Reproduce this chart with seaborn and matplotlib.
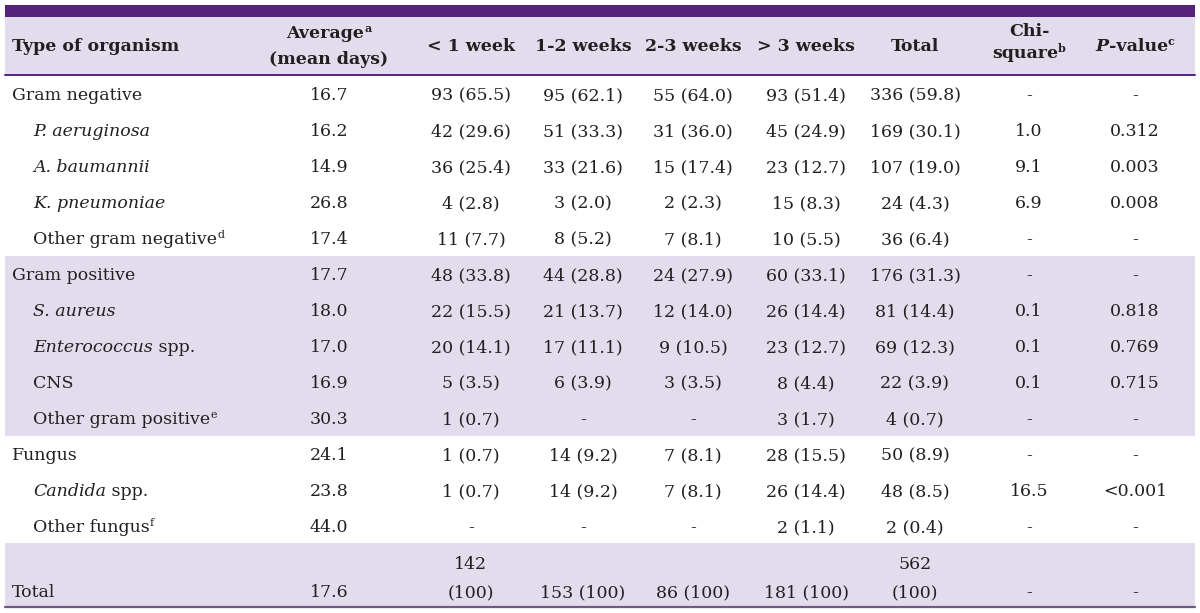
import matplotlib
matplotlib.use("Agg")
import matplotlib.pyplot as plt
import seaborn as sns

# table content
name_italic = ["", "P. aeruginosa", "A. baumannii", "K. pneumoniae", "",
               "", "S. aureus", "Enterococcus", "", "",
               "", "Candida", ""]
name_plain = ["Gram negative", "", "", "", "Other gram negative",
              "Gram positive", "", " spp.", "CNS", "Other gram positive",
              "Fungus", " spp.", "Other fungus"]
name_note = ["", "", "", "", "d", "", "", "", "", "e", "", "", "f"]
levels = [0, 1, 1, 1, 1, 0, 1, 1, 1, 1, 0, 1, 1]

avg = ["16.7", "16.2", "14.9", "26.8", "17.4", "17.7", "18.0", "17.0", "16.9", "30.3", "24.1", "23.8", "44.0"]
lt1 = ["93 (65.5)", "42 (29.6)", "36 (25.4)", "4 (2.8)", "11 (7.7)", "48 (33.8)", "22 (15.5)",
       "20 (14.1)", "5 (3.5)", "1 (0.7)", "1 (0.7)", "1 (0.7)", "-"]
w12 = ["95 (62.1)", "51 (33.3)", "33 (21.6)", "3 (2.0)", "8 (5.2)", "44 (28.8)", "21 (13.7)",
       "17 (11.1)", "6 (3.9)", "-", "14 (9.2)", "14 (9.2)", "-"]
w23 = ["55 (64.0)", "31 (36.0)", "15 (17.4)", "2 (2.3)", "7 (8.1)", "24 (27.9)", "12 (14.0)",
       "9 (10.5)", "3 (3.5)", "-", "7 (8.1)", "7 (8.1)", "-"]
gt3 = ["93 (51.4)", "45 (24.9)", "23 (12.7)", "15 (8.3)", "10 (5.5)", "60 (33.1)", "26 (14.4)",
       "23 (12.7)", "8 (4.4)", "3 (1.7)", "28 (15.5)", "26 (14.4)", "2 (1.1)"]
tot = ["336 (59.8)", "169 (30.1)", "107 (19.0)", "24 (4.3)", "36 (6.4)", "176 (31.3)", "81 (14.4)",
       "69 (12.3)", "22 (3.9)", "4 (0.7)", "50 (8.9)", "48 (8.5)", "2 (0.4)"]
chi = ["-", "1.0", "9.1", "6.9", "-", "-", "0.1", "0.1", "0.1", "-", "-", "16.5", "-"]
pval = ["-", "0.312", "0.003", "0.008", "-", "-", "0.818", "0.769", "0.715", "-", "-", "<0.001", "-"]
total_row = ["17.6", "142\n(100)", "153 (100)", "86 (100)", "181 (100)", "562\n(100)", "-", "-"]

PURPLE = "#55217a"
LAVENDER = "#e3dcec"
TXT = "#231f20"
FS = 12.5

sns.set_theme(style="white")
plt.rcParams["font.family"] = ["DejaVu Serif"]

fig = plt.figure(figsize=(12, 6.13), dpi=100)
ax = fig.add_axes([0, 0, 1, 1])
ax.set_xlim(0, 1200)
ax.set_ylim(613, 0)
ax.axis("off")
renderer = fig.canvas.get_renderer()


def rich(x, y, pieces, ha="left"):
    # pieces: (text, weight, style, size, raise)
    objs = []
    for txt, weight, style, size, up in pieces:
        t = ax.text(0, y - up, txt, fontsize=size, fontweight=weight, fontstyle=style,
                    color=TXT, va="baseline", ha="left")
        objs.append(t)
    widths = [t.get_window_extent(renderer).width for t in objs]
    total = sum(widths)
    start = x - total / 2 if ha == "center" else x
    for t, w in zip(objs, widths):
        t.set_x(start)
        start += w


def cell(x, y, txt, weight="normal", ha="center"):
    rich(x, y, [(txt, weight, "normal", FS, 0)], ha=ha)


# backgrounds
L, R = 5, 1195
ax.fill_between([L, R], 5, 17, color=PURPLE, lw=0)
ax.fill_between([L, R], 17, 75, color=LAVENDER, lw=0)
ax.plot([L, R], [75, 75], color=PURPLE, lw=1.4)
ax.fill_between([L, R], 256, 436, color=LAVENDER, lw=0)
ax.fill_between([L, R], 543, 606, color=LAVENDER, lw=0)
ax.plot([L, R], [606.5, 606.5], color="#6e5a86", lw=1.6)

cols = [329, 471, 583, 693, 806, 915, 1029, 1135]
B = "bold"
sup = 8

# header
rich(12, 51, [("Type of organism", B, "normal", FS, 0)])
rich(cols[0], 38, [("Average", B, "normal", FS, 0), ("a", B, "normal", sup, 6)], ha="center")
cell(cols[0], 64, "(mean days)", B)
for c, h in zip(cols[1:6], ["< 1 week", "1-2 weeks", "2-3 weeks", "> 3 weeks", "Total"]):
    cell(c, 51, h, B)
cell(cols[6], 36, "Chi-", B)
rich(cols[6], 58, [("square", B, "normal", FS, 0), ("b", B, "normal", sup, 6)], ha="center")
rich(cols[7], 51, [("P", B, "italic", FS, 0), ("-value", B, "normal", FS, 0),
                   ("c", B, "normal", sup, 6)], ha="center")

# body
for i in range(len(avg)):
    yb = 100 + 36 * i
    x0 = 12 if levels[i] == 0 else 33
    pieces = []
    if name_italic[i]:
        pieces.append((name_italic[i], "normal", "italic", FS, 0))
    if name_plain[i]:
        pieces.append((name_plain[i], "normal", "normal", FS, 0))
    if name_note[i]:
        pieces.append((name_note[i], "normal", "normal", sup, 6))
    rich(x0, yb, pieces)
    for c, v in zip(cols, [avg[i], lt1[i], w12[i], w23[i], gt3[i], tot[i], chi[i], pval[i]]):
        cell(c, yb, v)

# total row
cell(12, 597, "Total", ha="left")
for c, v in zip(cols, total_row):
    lines = v.split("\n")
    if len(lines) == 2:
        cell(c, 569, lines[0])
        cell(c, 597, lines[1])
    else:
        cell(c, 597, v)

fig.savefig("out.png", dpi=100)
